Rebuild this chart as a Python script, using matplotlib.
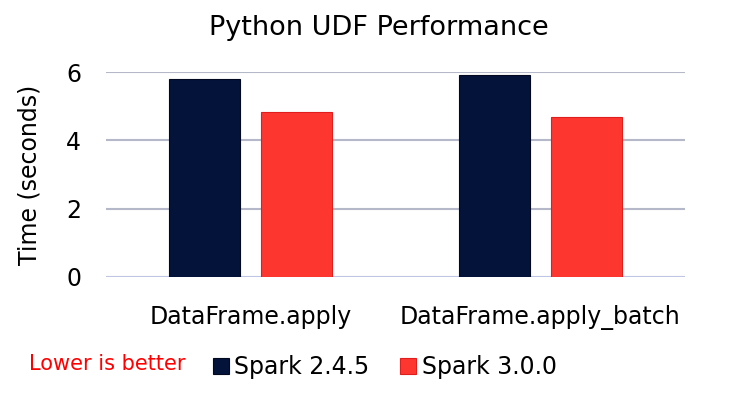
import matplotlib.pyplot as plt
import numpy as np
from matplotlib.patches import Patch

categories = ['DataFrame.apply', 'DataFrame.apply_batch']
spark_245 = [5.79, 5.91]
spark_300 = [4.82, 4.69]
series_names = ['Spark 2.4.5', 'Spark 3.0.0']
colors = ['#04133a', '#fd3730']
edges = ['#02081f', '#e01e1e']

plt.rcParams['font.family'] = ['DejaVu Sans']

fig = plt.figure(figsize=(7.31, 4.03), dpi=100)
ax = fig.add_axes([106 / 731, 1 - 277 / 403, 579 / 731, 205 / 403])

x = np.arange(len(categories))
w = 0.245
ax.bar(x - 0.159, spark_245, w, color=colors[0], edgecolor=edges[0],
       linewidth=0.8, zorder=3)
ax.bar(x + 0.159, spark_300, w, color=colors[1], edgecolor=edges[1],
       linewidth=0.8, zorder=3)

ax.set_xlim(-0.5, 1.5)
ax.set_ylim(0, 6)
ax.set_yticks([0, 2, 4, 6])
ax.set_xticks(x)
ax.set_xticklabels(categories, fontsize=17)
ax.tick_params(axis='y', labelsize=17, length=0, pad=18)
ax.tick_params(axis='x', length=0, pad=20)
ax.grid(axis='y', color='#b4b8c8', linewidth=1.5, zorder=0)
ax.axhline(0, color='#c3cbef', linewidth=1.8, zorder=2)
for s in ax.spines.values():
    s.set_visible(False)
ax.set_ylabel('Time (seconds)', fontsize=17)
ax.yaxis.set_label_coords(-0.112, 0.5)

fig.text(379 / 731, 1 - 28 / 403, 'Python UDF Performance', fontsize=19.5,
         ha='center', va='center')
fig.text(29 / 731, 1 - 364 / 403, 'Lower is better', fontsize=15,
         color='#ff0000', ha='left', va='center')

handles = [Patch(facecolor=c, edgecolor=e, linewidth=0.8)
           for c, e in zip(colors, edges)]
fig.legend(handles, series_names, loc='center left',
           bbox_to_anchor=(192 / 731, 1 - 367 / 403), ncol=2, frameon=False,
           fontsize=17, handlelength=0.65, handleheight=0.65,
           handletextpad=0.25, columnspacing=1.3)

fig.savefig('out.png', dpi=100)
